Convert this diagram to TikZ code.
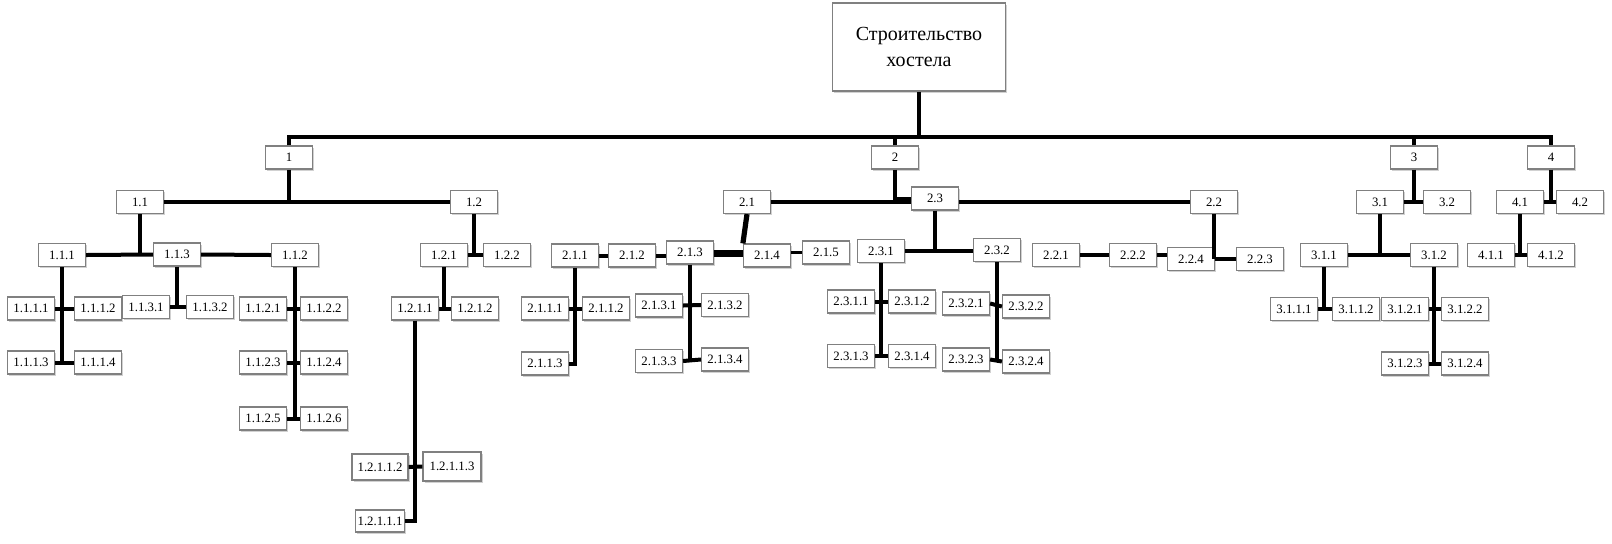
\documentclass[tikz,border=0pt]{standalone}
\usepackage{fontspec}
\setmainfont{Liberation Serif}
\usetikzlibrary{shadows}
\tikzset{
  box/.style={draw=black!50, fill=white, line width=0.6pt, minimum width=23.5pt, minimum height=11.5pt,
    inner sep=0pt, font=\fontsize{6.4}{7.5}\selectfont,
    drop shadow={shadow xshift=0.9pt, shadow yshift=-0.9pt, opacity=0.3, fill=black!60}},
  conn/.style={line width=2pt},
  thin conn/.style={line width=1.6pt},
}
\begin{document}
\begin{tikzpicture}[x=0.5pt,y=-0.5pt]
\useasboundingbox (0,0) rectangle (1612,543);
% root
\node[box, minimum width=86.5pt, minimum height=44pt, align=center, font=\fontsize{10}{13}\selectfont] (root) at (919,47) {Строительство\\хостела};
% level 1
\node[box] (n1) at (289,157.5) {1};
\node[box] (n2) at (895,157.5) {2};
\node[box] (n3) at (1414,157.5) {3};
\node[box] (n4) at (1551,157.5) {4};
% level 2
\node[box] (n11) at (140,202) {1.1};
\node[box] (n12) at (474,202) {1.2};
\node[box] (n21) at (747,202) {2.1};
\node[box] (n23) at (935,198.5) {2.3};
\node[box] (n22) at (1214,202) {2.2};
\node[box] (n31) at (1380,202) {3.1};
\node[box] (n32) at (1447,202) {3.2};
\node[box] (n41) at (1520,202) {4.1};
\node[box] (n42) at (1580,202) {4.2};
% level 3
\node[box] (n111) at (62,255) {1.1.1};
\node[box] (n113) at (177,254.5) {1.1.3};
\node[box] (n112) at (295,255) {1.1.2};
\node[box] (n121) at (444,255) {1.2.1};
\node[box] (n122) at (507,255) {1.2.2};
\node[box] (n211) at (575,255.5) {2.1.1};
\node[box] (n212) at (632,255.5) {2.1.2};
\node[box] (n213) at (690,252.5) {2.1.3};
\node[box] (n214) at (767,255.5) {2.1.4};
\node[box] (n215) at (826,252.5) {2.1.5};
\node[box] (n231) at (881,251) {2.3.1};
\node[box] (n232) at (997,250) {2.3.2};
\node[box] (n221) at (1056,255) {2.2.1};
\node[box] (n222) at (1133,255) {2.2.2};
\node[box] (n224) at (1191,259) {2.2.4};
\node[box] (n223) at (1260,259) {2.2.3};
\node[box] (n311) at (1324,255) {3.1.1};
\node[box] (n312) at (1434,255) {3.1.2};
\node[box] (n411) at (1491,255) {4.1.1};
\node[box] (n412) at (1551,255) {4.1.2};
% level 4
\node[box] (n1111) at (31,308.5) {1.1.1.1};
\node[box] (n1112) at (98,308.5) {1.1.1.2};
\node[box] (n1113) at (31,362.5) {1.1.1.3};
\node[box] (n1114) at (98,362.5) {1.1.1.4};
\node[box] (n1131) at (146,307) {1.1.3.1};
\node[box] (n1132) at (210,307) {1.1.3.2};
\node[box] (n1121) at (263,308.5) {1.1.2.1};
\node[box] (n1122) at (324,308.5) {1.1.2.2};
\node[box] (n1123) at (263,362.5) {1.1.2.3};
\node[box] (n1124) at (324,362.5) {1.1.2.4};
\node[box] (n1125) at (263,418.5) {1.1.2.5};
\node[box] (n1126) at (324,418.5) {1.1.2.6};
\node[box] (n1211) at (415,308.5) {1.2.1.1};
\node[box] (n1212) at (475,308.5) {1.2.1.2};
\node[box] (n2111) at (545,308.5) {2.1.1.1};
\node[box] (n2112) at (606,308.5) {2.1.1.2};
\node[box] (n2113) at (545,363.5) {2.1.1.3};
\node[box] (n2131) at (659,305.5) {2.1.3.1};
\node[box] (n2132) at (725,305) {2.1.3.2};
\node[box] (n2133) at (659,361) {2.1.3.3};
\node[box] (n2134) at (725,359.5) {2.1.3.4};
\node[box] (n2311) at (851,301.5) {2.3.1.1};
\node[box] (n2312) at (912,301.5) {2.3.1.2};
\node[box] (n2313) at (851,356) {2.3.1.3};
\node[box] (n2314) at (912,356) {2.3.1.4};
\node[box] (n2321) at (966,303.5) {2.3.2.1};
\node[box] (n2322) at (1026,306.5) {2.3.2.2};
\node[box] (n2323) at (966,359.5) {2.3.2.3};
\node[box] (n2324) at (1026,361.5) {2.3.2.4};
\node[box] (n3111) at (1294,309) {3.1.1.1};
\node[box] (n3112) at (1356,309) {3.1.1.2};
\node[box] (n3121) at (1405,309) {3.1.2.1};
\node[box] (n3122) at (1465,309) {3.1.2.2};
\node[box] (n3123) at (1405,363.5) {3.1.2.3};
\node[box] (n3124) at (1465,363.5) {3.1.2.4};
% level 5
\node[box, minimum width=28pt, minimum height=13pt] (n12112) at (380,467) {1.2.1.1.2};
\node[box, minimum width=29pt, minimum height=14.5pt] (n12113) at (452,466.5) {1.2.1.1.3};
\node[box, minimum width=24.5pt, minimum height=11pt] (n12111) at (380,521) {1.2.1.1.1};
% ---- connectors ----
\coordinate (bus) at (919,137);
\draw[conn] (n1.north) -- (n1.north |- bus) -- (n4.north |- bus) -- (n4.north);
\draw[conn] (root.south) -- (bus);
\draw[conn] (n2.north) -- (n2.north |- bus);
\draw[conn] (n3.north) -- (n3.north |- bus);
% group 1
\draw[conn] (n1.south) -- (n1.south |- n11.east);
\draw[thin conn] (n11.east) -- (n12.west);
\draw[conn] (n11.south) -- (n11.south |- n111.east);
\draw[conn] (n111.east) -- (n113.west);
\draw[conn] (n113.east) -- (n112.west);
\draw[conn] (n12.south) -- (n12.south |- n121.east);
\draw[conn] (n121.east) -- (n122.west);
\draw[conn] (n111.south) -- (n111.south |- n1113.east);
\draw[conn] (n1111.east) -- (n1112.west);
\draw[conn] (n1113.east) -- (n1114.west);
\draw[conn] (n113.south) -- (n113.south |- n1131.east);
\draw[conn] (n1131.east) -- (n1132.west);
\draw[conn] (n112.south) -- (n112.south |- n1125.east);
\draw[conn] (n1121.east) -- (n1122.west);
\draw[conn] (n1123.east) -- (n1124.west);
\draw[conn] (n1125.east) -- (n1126.west);
\draw[conn] (n121.south) -- (n121.south |- n1211.east);
\draw[conn] (n1211.east) -- (n1212.west);
\draw[conn] (n1211.south) -- (n1211.south |- n12111.east) -- (n12111.east);
\draw[conn] (n12112.east) -- (n12113.west);
% group 2
\draw[conn] (n2.south) -- (n2.south |- n21.east);
\draw[thin conn] (n21.east) -- (n21.east -| n23.west);
\draw[thin conn] (n23.east |- n22.west) -- (n22.west);
\draw[thin conn] (n2.south |- n23.west) -- (n23.west);
\draw[line width=2.6pt] (n21.south) -- (n214.north west);
\draw[conn] (n211.east) -- (n212.west);
\draw[conn] (n212.east) -- (n212.east -| n213.west);
\draw[line width=3.5pt] ([yshift=-0.5pt]n213.east) -- ([yshift=-0.5pt]n213.east -| n214.west);
\draw[line width=1.5pt] (n214.east |- n215.west) -- (n215.west);
\draw[conn] (n211.south) -- (n211.south |- n2113.east) -- (n2113.east);
\draw[conn] (n2111.east) -- (n2112.west);
\draw[conn] (n213.south) -- (n213.south |- n2133.east);
\draw[conn] (n2131.east) -- (n2132.west);
\draw[conn] (n2133.east) -- (n2134.west);
\draw[conn] (n23.south) -- (n23.south |- n231.east);
\draw[conn] (n231.east) -- (n231.east -| n232.west);
\draw[conn] (n231.south) -- (n231.south |- n2313.east);
\draw[conn] (n2311.east) -- (n2312.west);
\draw[conn] (n2313.east) -- (n2314.west);
\draw[conn] (n232.south) -- (n232.south |- n2324.west);
\draw[conn] (n2321.east) -- (n2322.west);
\draw[conn] (n2323.east) -- (n2324.west);
\draw[conn] (n22.south) -- (n22.south |- n223.west);
\draw[conn] (n224.east) -- (n223.west);
\draw[conn] (n221.east) -- (n222.west);
\draw[conn] (n222.east) -- (n222.east -| n224.west);
% group 3
\draw[conn] (n3.south) -- (n3.south |- n31.east);
\draw[conn] (n31.east) -- (n32.west);
\draw[conn] (n31.south) -- (n31.south |- n311.east);
\draw[conn] (n311.east) -- (n312.west);
\draw[conn] (n311.south) -- (n311.south |- n3111.east);
\draw[conn] (n3111.east) -- (n3112.west);
\draw[conn] (n312.south) -- (n312.south |- n3123.east);
\draw[conn] (n3121.east) -- (n3122.west);
\draw[conn] (n3123.east) -- (n3124.west);
% group 4
\draw[conn] (n4.south) -- (n4.south |- n41.east);
\draw[conn] (n41.east) -- (n42.west);
\draw[conn] (n41.south) -- (n41.south |- n411.east);
\draw[conn] (n411.east) -- (n412.west);
\end{tikzpicture}
\end{document}
